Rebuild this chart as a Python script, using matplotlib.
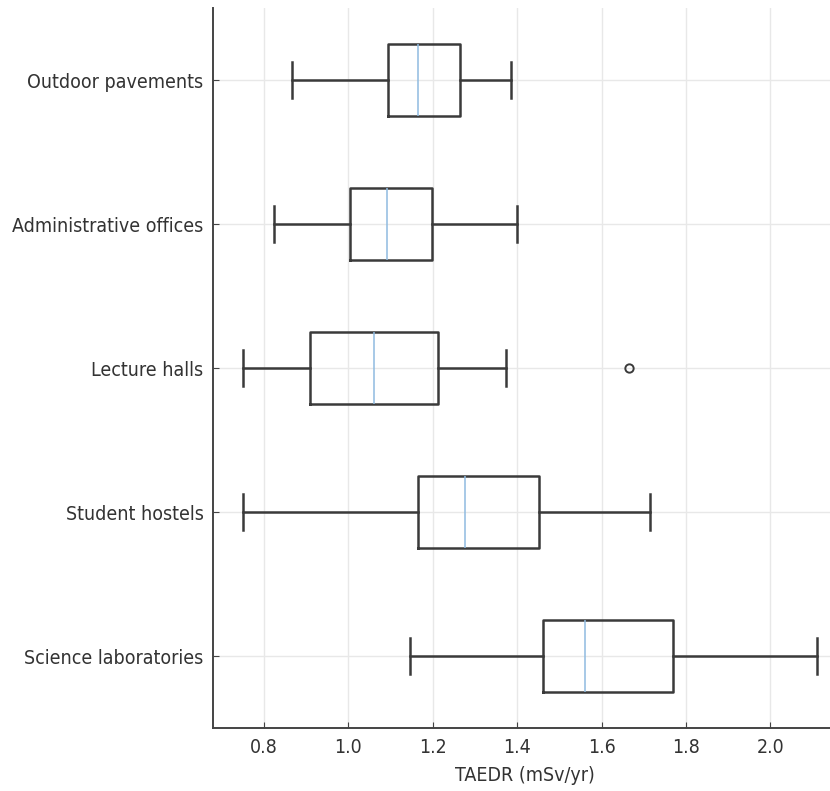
import matplotlib
matplotlib.use('Agg')
import matplotlib.pyplot as plt

# values (mSv/yr)
categories = ['Science laboratories', 'Student hostels', 'Lecture halls',
              'Administrative offices', 'Outdoor pavements']
whisker_low = [1.146, 0.752, 0.752, 0.824, 0.868]
q1 = [1.461, 1.165, 0.910, 1.005, 1.094]
median = [1.561, 1.277, 1.062, 1.093, 1.166]
q3 = [1.769, 1.451, 1.213, 1.199, 1.264]
whisker_high = [2.110, 1.714, 1.373, 1.400, 1.385]
outliers = [[], [], [1.666], [], []]

plt.rcParams['font.family'] = ['DejaVu Sans']
plt.rcParams['font.stretch'] = 'condensed'

def main():
    stats = []
    for i in range(len(categories)):
        stats.append({'label': categories[i], 'whislo': whisker_low[i], 'q1': q1[i],
                      'med': median[i], 'q3': q3[i], 'whishi': whisker_high[i],
                      'fliers': outliers[i]})

    fig = plt.figure(figsize=(8.3, 7.91), dpi=100)
    ax = fig.add_axes([0.257, 0.0796, 0.75, 0.910])
    line = dict(color='#3a3a3a', linewidth=1.8)
    ax.bxp(stats, vert=False, widths=0.5, showfliers=True,
           boxprops=line, whiskerprops=line, capprops=line,
           medianprops=dict(color='#8fbbe0', linewidth=1.1),
           flierprops=dict(marker='o', markerfacecolor='none', markeredgecolor='#3a3a3a',
                           markersize=6, markeredgewidth=1.4))

    ax.set_xlim(0.6805, 2.155)
    ax.set_ylim(0.5, 5.5)
    ax.set_xticks([0.8, 1.0, 1.2, 1.4, 1.6, 1.8, 2.0])
    ax.grid(True, color='#e8e8e8', linewidth=1)
    ax.set_axisbelow(True)
    for s in ['top', 'right']:
        ax.spines[s].set_visible(False)
    for s in ['left', 'bottom']:
        ax.spines[s].set_color('#444444')
        ax.spines[s].set_linewidth(1.4)
    ax.tick_params(axis='both', labelsize=14, colors='#444444', labelcolor='#333333',
                   direction='in', length=4, pad=7)
    ax.set_xlabel('TAEDR (mSv/yr)', fontsize=14, color='#333333', labelpad=7)

    fig.savefig('out.png', dpi=100)

if __name__ == '__main__':
    main()
